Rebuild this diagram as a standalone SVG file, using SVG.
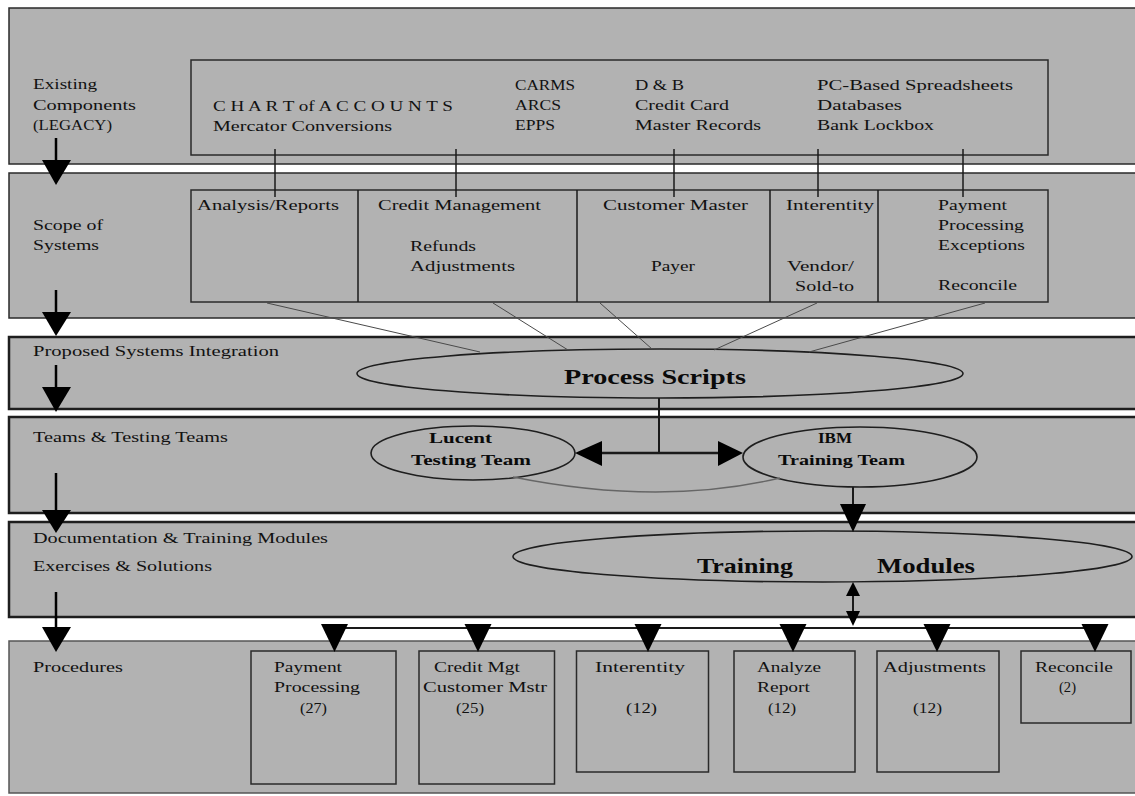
<svg xmlns="http://www.w3.org/2000/svg" width="1135" height="796" viewBox="0 0 1135 796">
<defs>
<style>
.band{fill:#b2b2b2;stroke:#2a2a2a;stroke-width:1.5}
.bandT{fill:#b2b2b2;stroke:#1e1e1e;stroke-width:2.5}
.box{fill:none;stroke:#2a2a2a;stroke-width:1.5}
.ell{fill:none;stroke:#1e1e1e;stroke-width:1.6}
.ln{stroke:#1a1a1a;stroke-width:1.5;fill:none}
.thick{stroke:#000;stroke-width:2.5;fill:none}
.thin{stroke:#4a4a4a;stroke-width:1;fill:none}
.head{fill:#000}
text{font-family:"Liberation Serif","Times New Roman",serif;font-size:15px;fill:#111}
.b{font-weight:bold;fill:#0a0a0a}
.big{font-size:22px;font-weight:bold;fill:#0a0a0a}
</style>
</defs>
<rect width="1135" height="796" fill="#ffffff"/>
<g id="bands">
<rect id="band-legacy" class="band" x="9" y="8" width="1140" height="156"/>
<rect id="band-scope" class="band" x="9" y="173" width="1140" height="145"/>
<rect id="band-integration" class="bandT" x="9" y="337" width="1140" height="72"/>
<rect id="band-teams" class="bandT" x="9" y="417" width="1140" height="96"/>
<rect id="band-docs" class="bandT" x="9" y="522" width="1140" height="95"/>
<rect id="band-procedures" class="band" x="9" y="641" width="1140" height="152" style="stroke:#555"/>
</g>
<g id="band-labels">
<text x="33" y="89" textLength="64" lengthAdjust="spacingAndGlyphs">Existing</text>
<text x="33" y="110" textLength="103" lengthAdjust="spacingAndGlyphs">Components</text>
<text x="33" y="130" textLength="79" lengthAdjust="spacingAndGlyphs">(LEGACY)</text>
<text x="33" y="230" textLength="70" lengthAdjust="spacingAndGlyphs">Scope of</text>
<text x="33" y="250" textLength="66" lengthAdjust="spacingAndGlyphs">Systems</text>
<text x="33" y="356" textLength="246" lengthAdjust="spacingAndGlyphs">Proposed Systems Integration</text>
<text x="33" y="442" textLength="195" lengthAdjust="spacingAndGlyphs">Teams &amp; Testing Teams</text>
<text x="33" y="543" textLength="295" lengthAdjust="spacingAndGlyphs">Documentation &amp; Training Modules</text>
<text x="33" y="571" textLength="179" lengthAdjust="spacingAndGlyphs">Exercises &amp; Solutions</text>
<text x="33" y="672" textLength="90" lengthAdjust="spacingAndGlyphs">Procedures</text>
</g>
<g id="legacy-components">
<rect class="box" x="191" y="60" width="857" height="95"/>
<text x="213" y="111" textLength="240" lengthAdjust="spacingAndGlyphs">C H A R T of A C C O U N T S</text>
<text x="213" y="131" textLength="179" lengthAdjust="spacingAndGlyphs">Mercator Conversions</text>
<text x="515" y="90" textLength="60" lengthAdjust="spacingAndGlyphs">CARMS</text>
<text x="515" y="110" textLength="46" lengthAdjust="spacingAndGlyphs">ARCS</text>
<text x="515" y="130" textLength="40" lengthAdjust="spacingAndGlyphs">EPPS</text>
<text x="635" y="90" textLength="49" lengthAdjust="spacingAndGlyphs">D &amp; B</text>
<text x="635" y="110" textLength="94" lengthAdjust="spacingAndGlyphs">Credit Card</text>
<text x="635" y="130" textLength="126" lengthAdjust="spacingAndGlyphs">Master Records</text>
<text x="817" y="90" textLength="196" lengthAdjust="spacingAndGlyphs">PC-Based Spreadsheets</text>
<text x="817" y="110" textLength="85" lengthAdjust="spacingAndGlyphs">Databases</text>
<text x="817" y="130" textLength="117" lengthAdjust="spacingAndGlyphs">Bank Lockbox</text>
</g>
<g id="scope-systems">
<rect class="box" x="191" y="190" width="857" height="112"/>
<line class="ln" x1="358" y1="190" x2="358" y2="302"/>
<line class="ln" x1="577" y1="190" x2="577" y2="302"/>
<line class="ln" x1="770" y1="190" x2="770" y2="302"/>
<line class="ln" x1="878" y1="190" x2="878" y2="302"/>
</g>
<g id="scope-analysis"><text x="197" y="210" textLength="142" lengthAdjust="spacingAndGlyphs">Analysis/Reports</text></g>
<g id="scope-credit">
<text x="378" y="210" textLength="163" lengthAdjust="spacingAndGlyphs">Credit Management</text>
<text x="410" y="251" textLength="66" lengthAdjust="spacingAndGlyphs">Refunds</text>
<text x="410" y="271" textLength="105" lengthAdjust="spacingAndGlyphs">Adjustments</text>
</g>
<g id="scope-customer">
<text x="603" y="210" textLength="145" lengthAdjust="spacingAndGlyphs">Customer Master</text>
<text x="651" y="271" textLength="44" lengthAdjust="spacingAndGlyphs">Payer</text>
</g>
<g id="scope-interentity">
<text x="786" y="210" textLength="88" lengthAdjust="spacingAndGlyphs">Interentity</text>
<text x="787" y="271" textLength="67" lengthAdjust="spacingAndGlyphs">Vendor/</text>
<text x="795" y="291" textLength="59" lengthAdjust="spacingAndGlyphs">Sold-to</text>
</g>
<g id="scope-payment">
<text x="938" y="210" textLength="69" lengthAdjust="spacingAndGlyphs">Payment</text>
<text x="938" y="230" textLength="86" lengthAdjust="spacingAndGlyphs">Processing</text>
<text x="938" y="250" textLength="87" lengthAdjust="spacingAndGlyphs">Exceptions</text>
<text x="938" y="290" textLength="79" lengthAdjust="spacingAndGlyphs">Reconcile</text>
</g>
<g id="process-scripts">
<ellipse class="ell" cx="660" cy="373.5" rx="303" ry="24.5"/>
<text class="big" x="564" y="384" textLength="182" lengthAdjust="spacingAndGlyphs">Process Scripts</text>
</g>
<g id="lucent-team">
<ellipse class="ell" cx="473" cy="453" rx="102" ry="27"/>
<text class="b" x="429" y="443" textLength="63" lengthAdjust="spacingAndGlyphs">Lucent</text>
<text class="b" x="411" y="465" textLength="120" lengthAdjust="spacingAndGlyphs">Testing Team</text>
</g>
<g id="ibm-team">
<ellipse class="ell" cx="860" cy="457" rx="117" ry="30"/>
<text class="b" x="818" y="443" textLength="34" lengthAdjust="spacingAndGlyphs">IBM</text>
<text class="b" x="778" y="465" textLength="127" lengthAdjust="spacingAndGlyphs">Training Team</text>
</g>
<g id="training-modules">
<ellipse class="ell" cx="822.5" cy="556.5" rx="309.5" ry="25.5"/>
<text class="big" x="697" y="573" textLength="96" lengthAdjust="spacingAndGlyphs">Training</text>
<text class="big" x="877" y="573" textLength="98" lengthAdjust="spacingAndGlyphs">Modules</text>
</g>
<g id="proc-payment">
<rect class="box" x="251" y="651" width="145" height="133"/>
<text x="274" y="672" textLength="68" lengthAdjust="spacingAndGlyphs">Payment</text>
<text x="274" y="692" textLength="86" lengthAdjust="spacingAndGlyphs">Processing</text>
<text x="300" y="713" textLength="27" lengthAdjust="spacingAndGlyphs">(27)</text>
</g>
<g id="proc-credit">
<rect class="box" x="419" y="651" width="135.5" height="133"/>
<text x="434" y="672" textLength="86" lengthAdjust="spacingAndGlyphs">Credit Mgt</text>
<text x="423" y="692" textLength="124" lengthAdjust="spacingAndGlyphs">Customer Mstr</text>
<text x="456" y="713" textLength="28" lengthAdjust="spacingAndGlyphs">(25)</text>
</g>
<g id="proc-interentity">
<rect class="box" x="576.5" y="651" width="132" height="121"/>
<text x="595" y="672" textLength="90" lengthAdjust="spacingAndGlyphs">Interentity</text>
<text x="626" y="713" textLength="31" lengthAdjust="spacingAndGlyphs">(12)</text>
</g>
<g id="proc-analyze">
<rect class="box" x="734" y="651" width="121" height="121"/>
<text x="757" y="672" textLength="64" lengthAdjust="spacingAndGlyphs">Analyze</text>
<text x="757" y="692" textLength="53" lengthAdjust="spacingAndGlyphs">Report</text>
<text x="768" y="713" textLength="28" lengthAdjust="spacingAndGlyphs">(12)</text>
</g>
<g id="proc-adjustments">
<rect class="box" x="877" y="651" width="122" height="121"/>
<text x="883" y="672" textLength="103" lengthAdjust="spacingAndGlyphs">Adjustments</text>
<text x="913" y="713" textLength="29" lengthAdjust="spacingAndGlyphs">(12)</text>
</g>
<g id="proc-reconcile">
<rect class="box" x="1021" y="651" width="110" height="72"/>
<text x="1035" y="672" textLength="78" lengthAdjust="spacingAndGlyphs">Reconcile</text>
<text x="1059" y="692" textLength="17" lengthAdjust="spacingAndGlyphs">(2)</text>
</g>
<g id="connectors">
<line class="ln" x1="275" y1="149" x2="275" y2="197"/>
<line class="ln" x1="456" y1="149" x2="456" y2="197"/>
<line class="ln" x1="674" y1="149" x2="674" y2="197"/>
<line class="ln" x1="818" y1="149" x2="818" y2="197"/>
<line class="ln" x1="963" y1="149" x2="963" y2="197"/>
<line class="thin" x1="267" y1="303" x2="480" y2="352"/>
<line class="thin" x1="493" y1="303" x2="568" y2="350"/>
<line class="thin" x1="600" y1="303" x2="652" y2="349"/>
<line class="thin" x1="817" y1="303" x2="714" y2="350"/>
<line class="thin" x1="985" y1="303" x2="809" y2="352"/>
<line class="ln" x1="659" y1="398" x2="659" y2="453" style="stroke-width:2"/>
<line class="ln" x1="600" y1="453" x2="720" y2="453" style="stroke-width:2.5"/>
<polygon class="head" points="575,453 602,441 602,466"/>
<polygon class="head" points="743,453 718,441 718,466"/>
<path d="M513,477 Q660,506.5 780,478" stroke="#666" stroke-width="1.3" fill="none"/>
<line class="ln" x1="853" y1="487" x2="853" y2="506" style="stroke-width:2"/>
<polygon class="head" points="840,504 866,504 853,532"/>
<line class="ln" x1="853" y1="590" x2="853" y2="618" style="stroke-width:2"/>
<polygon class="head" points="853,582 846,596 860,596"/>
<polygon class="head" points="846,611 860,611 853,626"/>
<line class="ln" x1="334" y1="628" x2="1095" y2="628" style="stroke-width:2"/>
<polygon class="head" points="321,624 348,624 334.5,652"/>
<polygon class="head" points="464.5,624 491.5,624 478,652"/>
<polygon class="head" points="634.5,624 661.5,624 648,652"/>
<polygon class="head" points="779.5,624 806.5,624 793,652"/>
<polygon class="head" points="923.5,624 950.5,624 937,652"/>
<polygon class="head" points="1081.5,624 1108.5,624 1095,652"/>
<line class="thick" x1="56" y1="138" x2="56" y2="162"/>
<polygon class="head" points="42,160 71,160 56,185"/>
<line class="thick" x1="56" y1="290" x2="56" y2="314"/>
<polygon class="head" points="42,312 71,312 56,336"/>
<line class="thick" x1="56" y1="365" x2="56" y2="389"/>
<polygon class="head" points="42,387 71,387 56,412"/>
<line class="thick" x1="56" y1="473" x2="56" y2="512"/>
<polygon class="head" points="42,510 71,510 56,533"/>
<line class="thick" x1="56" y1="592" x2="56" y2="629"/>
<polygon class="head" points="42,627 71,627 56,652"/>
</g>
</svg>
